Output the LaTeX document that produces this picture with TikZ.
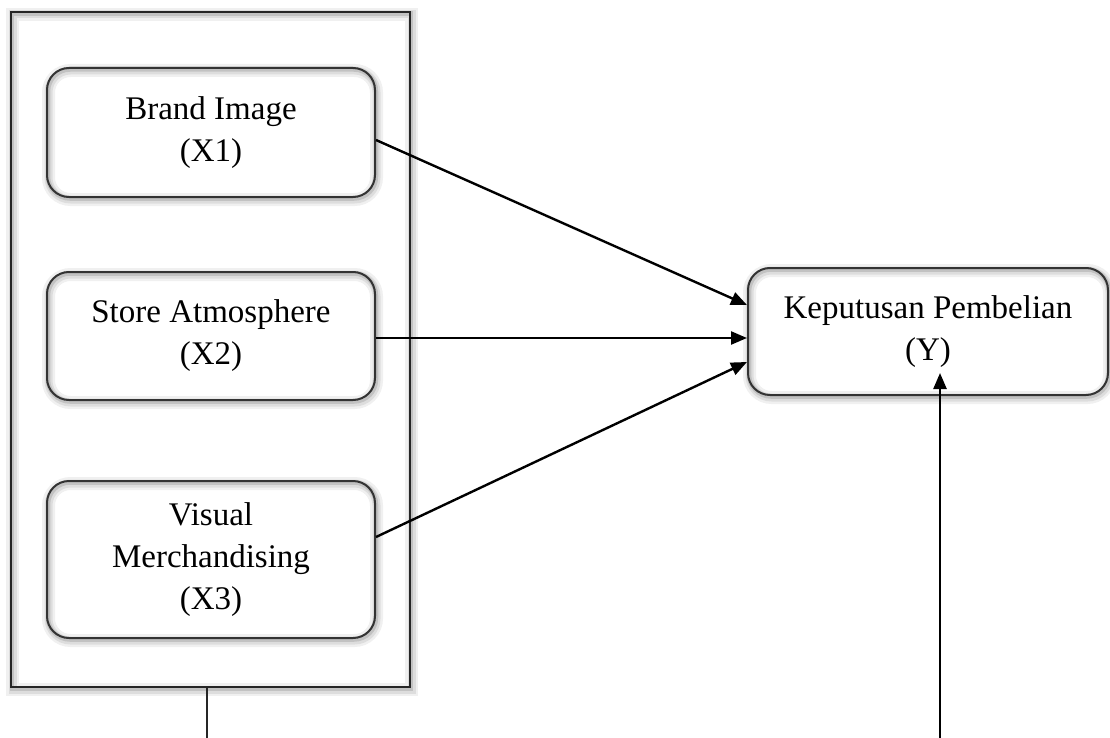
\documentclass[tikz,border=0pt]{standalone}
\usepackage{fontspec}
\setmainfont{Liberation Serif}
\usetikzlibrary{arrows.meta}
\tikzset{
  glow/.style={
    preaction={draw=black, draw opacity=0.06, line width=13pt, transform canvas={shift={(1.5pt,-2.5pt)}}},
    preaction={draw=black, draw opacity=0.08, line width=8pt, transform canvas={shift={(1.5pt,-2.5pt)}}},
    preaction={draw=black, draw opacity=0.12, line width=4.5pt, transform canvas={shift={(1pt,-1.5pt)}}}},
  frame/.style={draw=black!85, line width=2.4pt, glow, inner sep=0pt},
  varbox/.style={draw=black!80, line width=2pt, rounded corners=22pt, glow,
    inner sep=0pt, align=center, font=\fontsize{33}{42}\selectfont},
  link/.style={draw=black, line width=2.4pt, -{Triangle[length=16pt,width=13pt]}},
  plain/.style={draw=black!85, line width=2.4pt}
}
\begin{document}
\begin{tikzpicture}[x=1pt,y=-1pt]
\useasboundingbox (0,0) rectangle (1110,738);
\node[frame, minimum width=399pt, minimum height=675pt] (frame) at (210.5,349.5) {};
\node[varbox, minimum width=328pt, minimum height=129pt] (x1) at (211,132.5) {Brand Image\\(X1)};
\node[varbox, minimum width=328pt, minimum height=128pt] (x2) at (211,336) {Store Atmosphere\\(X2)};
\node[varbox, minimum width=328pt, minimum height=157pt] (x3) at (211,559.5) {Visual\\Merchandising\\(X3)};
\node[varbox, minimum width=360pt, minimum height=127pt] (y) at (928,331.5) {Keputusan Pembelian\\(Y)};
\coordinate (bl) at (207,738);
\coordinate (br) at (940,738);
\coordinate (ytip) at (940,373);
\draw[link] ([yshift=-7.5pt]x1.east) -- ([yshift=26.5pt]y.west);
\draw[link] ([yshift=-2pt]x2.east) -- ([yshift=-6.5pt]y.west);
\draw[link] ([yshift=22.5pt]x3.east) -- ([yshift=-30.5pt]y.west);
\draw[plain] (frame.south -| bl) -- (bl);
\draw[link] (br) -- (ytip);
\end{tikzpicture}
\end{document}
